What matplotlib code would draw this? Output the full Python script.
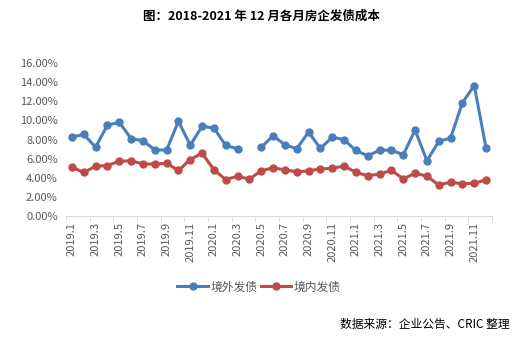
import numpy as np
import matplotlib
matplotlib.use("Agg")
import matplotlib.pyplot as plt
from matplotlib.ticker import FuncFormatter

plt.rcParams['font.family'] = ['Noto Sans CJK SC', 'DejaVu Sans']

TITLE = "图：2018-2021 年 12 月各月房企发债成本"
SOURCE = "数据来源：企业公告、CRIC 整理"

months = [f"{y}.{m}" for y in (2019, 2020, 2021) for m in range(1, 13)]

# 境外发债 (%), 2020.4 missing
overseas = [8.25, 8.53, 7.20, 9.50, 9.80, 8.10, 7.87, 6.92, 6.89, 9.90, 7.41, 9.37,
            9.20, 7.38, 7.03, np.nan, 7.18, 8.39, 7.45, 7.03, 8.78, 7.06, 8.25, 7.97,
            6.85, 6.29, 6.89, 6.89, 6.40, 8.99, 5.77, 7.80, 8.15, 11.85, 13.64, 7.10]
# 境内发债 (%)
domestic = [5.10, 4.55, 5.20, 5.28, 5.73, 5.77, 5.45, 5.42, 5.52, 4.76, 5.90, 6.57,
            4.83, 3.81, 4.16, 3.85, 4.74, 5.03, 4.83, 4.62, 4.72, 4.93, 4.97, 5.24,
            4.55, 4.23, 4.37, 4.79, 3.88, 4.48, 4.16, 3.25, 3.53, 3.36, 3.43, 3.78]

BLUE = "#4A7EBB"
RED = "#BE4B48"
GRAY = "#595959"

fig = plt.figure(figsize=(5.22, 3.39), dpi=100)
ax = fig.add_axes([66 / 522, 1 - 216 / 339, 426 / 522, 153 / 339])

x = np.arange(len(months))
ax.plot(x, overseas, color=BLUE, lw=2.2, marker="o", ms=5, label="境外发债")
ax.plot(x, domestic, color=RED, lw=2.2, marker="o", ms=5, label="境内发债")

ax.set_xlim(-0.5, len(months) - 0.5)
ax.set_ylim(0, 16)
ax.set_yticks(np.arange(0, 17, 2))
ax.yaxis.set_major_formatter(FuncFormatter(lambda v, p: f"{v:.2f}%"))

ax.set_xticks(x[::2])
ax.set_xticklabels(months[::2], rotation=90)
ax.set_xticks(np.arange(-0.5, len(months), 2), minor=True)
ax.tick_params(axis="x", which="major", length=0, pad=4, labelsize=8, colors=GRAY)
ax.tick_params(axis="x", which="minor", length=4, color="#D9D9D9")
ax.tick_params(axis="y", length=0, pad=6, labelsize=8, colors=GRAY)

for s in ("top", "right", "left"):
    ax.spines[s].set_visible(False)
ax.spines["bottom"].set_color("#D9D9D9")

fig.text(0.5, 1 - 16 / 339, TITLE, ha="center", va="center", fontsize=9, fontweight="bold")
fig.legend(loc="center", bbox_to_anchor=(259 / 522, 1 - 287 / 339), ncol=2, frameon=False,
           fontsize=8.5, handlelength=2.6, columnspacing=0.3, handletextpad=0.2,
           labelcolor=GRAY)
fig.text(510 / 522, 1 - 324 / 339, SOURCE, ha="right", va="center", fontsize=8.5)

fig.savefig("out.png", dpi=100)
